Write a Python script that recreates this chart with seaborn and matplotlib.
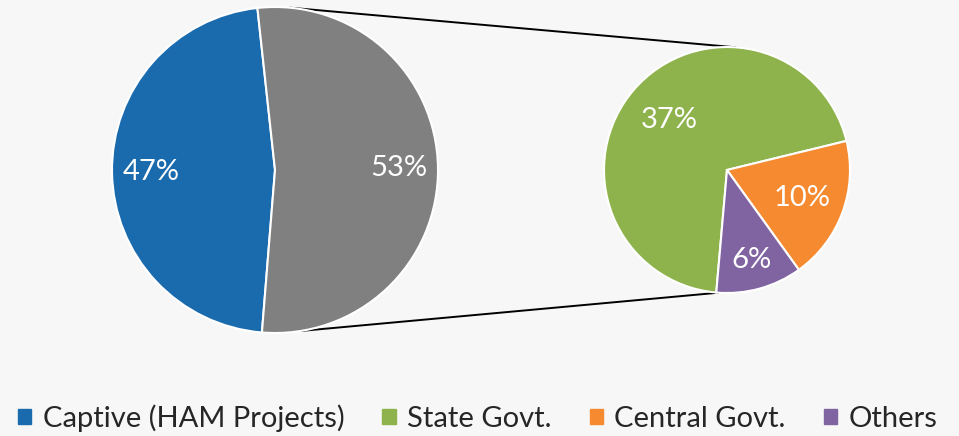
import numpy as np
import matplotlib
matplotlib.use("Agg")
import matplotlib.pyplot as plt
import matplotlib.patches as mpatches
import seaborn as sns

# data
categories = ["Captive (HAM Projects)", "State Govt.", "Central Govt.", "Others"]
shares = [47, 37, 10, 6]
colors = ["#1A6AAE", "#8FB34C", "#F58A30", "#8064A2"]
grey = "#808080"
bg = "#F7F7F7"

sns.set_theme(style="white")
plt.rcParams["font.family"] = ["Lato", "DejaVu Sans"]

fig = plt.figure(figsize=(9.59, 4.36), dpi=100, facecolor=bg)
ax = fig.add_axes([0, 0, 1, 1])
ax.set_facecolor(bg)

left_c, left_r = (275, 266), 163
right_c, right_r = (727, 266), 123

main_vals = [shares[0], sum(shares[1:])]
sub_vals = shares[1:]
total = sum(shares)

wedge_kw = dict(edgecolor="white", linewidth=1.5)
text_kw = dict(color="white", fontsize=21)

ax.pie(main_vals, colors=[colors[0], grey], startangle=265.4, counterclock=False,
       center=left_c, radius=left_r, wedgeprops=wedge_kw,
       autopct=lambda p: f"{p:.0f}%", pctdistance=0.76, textprops=text_kw,
       frame=True)

_, _, sub_txt = ax.pie(sub_vals, colors=colors[1:], startangle=265, counterclock=False,
                       center=right_c, radius=right_r, wedgeprops=wedge_kw,
                       autopct=lambda p: f"{p * sum(sub_vals) / total:.0f}%",
                       pctdistance=0.67, textprops=text_kw, frame=True)

# nudge the small-pie labels radially, like the original layout
for t, d in zip(sub_txt, [0.62, 0.65, 0.76]):
    x, y = t.get_position()
    dx, dy = x - right_c[0], y - right_c[1]
    k = d / 0.67
    t.set_position((right_c[0] + dx * k, right_c[1] + dy * k))

ax.set_xlim(0, 959)
ax.set_ylim(0, 436)
ax.set_aspect("equal")
ax.axis("off")

# connector lines between the two pies
for a_left, a_right in [(84.7, 86), (-81, -94)]:
    x0 = left_c[0] + left_r * np.cos(np.radians(a_left))
    y0 = left_c[1] + left_r * np.sin(np.radians(a_left))
    x1 = right_c[0] + right_r * np.cos(np.radians(a_right))
    y1 = right_c[1] + right_r * np.sin(np.radians(a_right))
    ax.plot([x0, x1], [y0, y1], color="black", linewidth=1.4, zorder=0)

handles = [mpatches.Patch(color=c, label=l) for c, l in zip(colors, categories)]
fig.legend(handles=handles, loc="center left", bbox_to_anchor=(18 / 959, 18 / 436),
           ncol=4, frameon=False, fontsize=21, borderpad=0, borderaxespad=0,
           handlelength=0.45, handleheight=0.45, handletextpad=0.4, columnspacing=1.3)

fig.savefig("out.png", dpi=100, facecolor=bg)
